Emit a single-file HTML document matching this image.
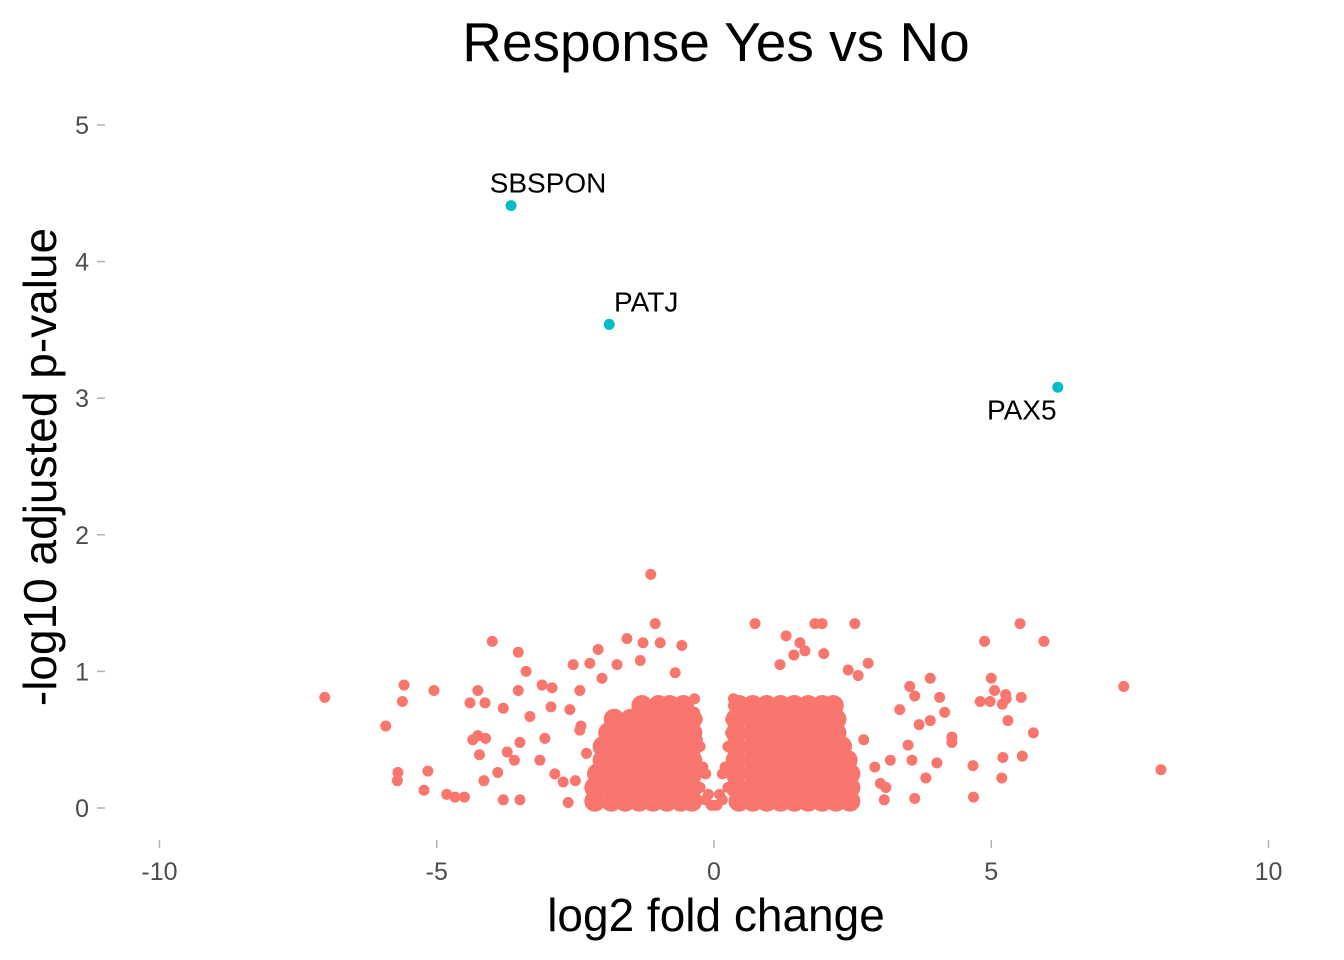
<!DOCTYPE html>
<html><head><meta charset="utf-8"><title>Response Yes vs No</title>
<style>
html,body{margin:0;padding:0;background:#fff;}
svg{display:block;font-family:"Liberation Sans",Arial,sans-serif;}
</style></head>
<body>
<svg id="chart" width="1344" height="960" viewBox="0 0 1344 960">
<text x="716" y="61" text-anchor="middle" font-size="55" fill="#000">Response Yes vs No</text>
<g id="xaxis"></g>
<g id="yaxis"></g>
<text x="716" y="931" text-anchor="middle" font-size="46" fill="#000">log2 fold change</text>
<text transform="translate(56,467) rotate(-90)" text-anchor="middle" font-size="46" fill="#000">-log10 adjusted p-value</text>
<g id="points"></g>
<g id="labels"></g>
</svg>
<script>
const xTicks = [-10, -5, 0, 5, 10];
const yTicks = [0, 1, 2, 3, 4, 5];
const sigGenes = ["SBSPON", "PATJ", "PAX5"];
const sigX = [-3.66, -1.89, 6.2];
const sigY = [4.41, 3.54, 3.08];
const scatterX = [-7.02,-5.92,-5.59,-5.62,-5.7,-5.71,-5.16,-5.05,-5.23,-4.82,-4.67,-4.5,-4.0,-3.53,-3.39,-4.26,-4.4,-4.13,-3.8,-3.53,-4.35,-4.26,-4.12,-4.23,-3.9,-4.15,-3.8,-3.5,-3.6,-3.5,-3.73,-3.32,-3.1,-2.92,-2.94,-3.05,-3.14,-2.87,-2.63,-2.72,-2.54,-2.24,-2.09,-1.57,-1.28,-0.97,-1.06,-1.14,-0.58,-0.7,-1.75,-1.33,-2.02,-2.42,-2.6,-2.42,
0.74,1.3,1.82,1.95,2.54,1.55,1.64,1.44,1.19,1.98,2.78,2.42,2.6,3.53,3.9,3.62,4.07,4.16,3.35,3.9,3.7,4.29,4.29,3.5,3.57,4.02,3.82,3.62,3.07,3.0,3.18,4.88,5.52,5.95,5.0,5.06,5.26,5.54,5.27,4.8,4.98,5.2,5.3,5.76,5.56,5.21,5.19,4.67,4.68,7.39,8.06,
-0.3,-0.2,-0.1,0,0.1,0.2,0.3,-0.35,0.35,-0.25,0.25,-0.15,0.15,-0.05,0.05,2.7,2.9,3.1,-2.3,-2.5,-2.2,-2.4,
-0.25,0.25,-0.15,0.15,-0.3,0.3,-0.35,0.35];
const scatterY = [0.81,0.60,0.90,0.78,0.26,0.20,0.27,0.86,0.13,0.10,0.08,0.08,1.22,1.14,1.0,0.86,0.77,0.77,0.73,0.86,0.5,0.53,0.51,0.39,0.26,0.2,0.06,0.06,0.35,0.48,0.41,0.67,0.9,0.88,0.74,0.51,0.35,0.25,0.04,0.19,1.05,1.06,1.16,1.24,1.21,1.21,1.35,1.71,1.19,0.99,1.05,1.08,0.95,0.86,0.72,0.57,
1.35,1.26,1.35,1.35,1.35,1.21,1.15,1.12,1.05,1.13,1.06,1.01,0.97,0.89,0.95,0.82,0.81,0.7,0.72,0.64,0.61,0.52,0.48,0.46,0.35,0.33,0.22,0.07,0.06,0.18,0.35,1.22,1.35,1.22,0.95,0.86,0.83,0.81,0.8,0.78,0.78,0.76,0.64,0.55,0.38,0.37,0.22,0.31,0.08,0.89,0.28,
0.5,0.3,0.1,0.02,0.1,0.3,0.55,0.7,0.75,0.15,0.15,0.06,0.06,0.02,0.02,0.5,0.3,0.15,0.4,0.2,0.1,0.6,
0.45,0.45,0.25,0.25,0.65,0.65,0.8,0.8];
const denseRowY = [0.05, 0.15, 0.25, 0.35, 0.45, 0.55, 0.65, 0.75];
const denseRowLeftX = [
 [-2.15,-1.85,-1.6,-1.35,-1.1,-0.85,-0.6,-0.4],
 [-2.15,-1.85,-1.6,-1.35,-1.1,-0.85,-0.6,-0.4],
 [-2.1,-1.85,-1.6,-1.35,-1.1,-0.85,-0.6,-0.4],
 [-2.0,-1.85,-1.6,-1.35,-1.1,-0.85,-0.6,-0.4],
 [-2.0,-1.8,-1.6,-1.35,-1.1,-0.85,-0.6,-0.4],
 [-1.9,-1.6,-1.35,-1.1,-0.85,-0.6,-0.4],
 [-1.8,-1.5,-1.3,-1.1,-0.85,-0.6,-0.4],
 [-1.3,-1.0,-0.8,-0.55]
];
const denseRowRightX = [
 [0.45,0.7,0.95,1.2,1.45,1.7,1.95,2.2,2.45],
 [0.4,0.7,0.95,1.2,1.45,1.7,1.95,2.2,2.45],
 [0.4,0.7,0.95,1.2,1.45,1.7,1.95,2.2,2.45],
 [0.4,0.7,0.95,1.2,1.45,1.7,1.95,2.2,2.4],
 [0.4,0.7,0.95,1.2,1.45,1.7,1.95,2.2,2.3],
 [0.4,0.7,0.95,1.2,1.45,1.7,1.95,2.2],
 [0.4,0.7,0.95,1.2,1.45,1.7,1.95,2.2],
 [0.45,0.7,0.95,1.2,1.45,1.7,1.95,2.15]
];
const NS="http://www.w3.org/2000/svg";
function sx(v){return 714 + v*55.45;}
function sy(v){return 808 - v*136.6;}
const xa=document.getElementById('xaxis'), ya=document.getElementById('yaxis');
const pts=document.getElementById('points'), lab=document.getElementById('labels');
xTicks.forEach(t=>{
  const l=document.createElementNS(NS,'line');
  l.setAttribute('x1',sx(t));l.setAttribute('x2',sx(t));l.setAttribute('y1',840);l.setAttribute('y2',848);
  l.setAttribute('stroke','#b3b3b3');l.setAttribute('stroke-width','1.5');
  
  
  xa.appendChild(l);
  const tx=document.createElementNS(NS,'text');
  tx.setAttribute('x',sx(t));tx.setAttribute('y',880);tx.setAttribute('text-anchor','middle');
  tx.setAttribute('font-size','25');tx.setAttribute('fill','#4d4d4d');tx.textContent=t;
  
  
  xa.appendChild(tx);
});
yTicks.forEach(t=>{
  const l=document.createElementNS(NS,'line');
  l.setAttribute('x1',97);l.setAttribute('x2',105);l.setAttribute('y1',sy(t));l.setAttribute('y2',sy(t));
  l.setAttribute('stroke','#b3b3b3');l.setAttribute('stroke-width','1.5');
  
  
  ya.appendChild(l);
  const tx=document.createElementNS(NS,'text');
  tx.setAttribute('x',89);tx.setAttribute('y',sy(t)+9);tx.setAttribute('text-anchor','end');
  tx.setAttribute('font-size','25');tx.setAttribute('fill','#4d4d4d');tx.textContent=t;
  
  
  ya.appendChild(tx);
});
function dot(x,y,r,c,name){
  const d=document.createElementNS(NS,'circle');
  d.setAttribute('cx',sx(x));d.setAttribute('cy',sy(y));d.setAttribute('r',r);d.setAttribute('fill',c);
  
  
  pts.appendChild(d);
}
denseRowY.forEach((y,i)=>{
  denseRowLeftX[i].forEach(x=>dot(x,y,10.5,'#F8766D','dense-point'));
  denseRowRightX[i].forEach(x=>dot(x,y,10.5,'#F8766D','dense-point'));
});
scatterX.forEach((x,i)=>dot(x,scatterY[i],5.5,'#F8766D','gene-point'));
sigX.forEach((x,i)=>dot(x,sigY[i],5.5,'#00BFC4','significant-gene-point'));
const labDx=[37,37,-36], labDy=[-13,-13,32];
sigGenes.forEach((g,i)=>{
  const tx=document.createElementNS(NS,'text');
  tx.setAttribute('x',sx(sigX[i])+labDx[i]);tx.setAttribute('y',sy(sigY[i])+labDy[i]);
  tx.setAttribute('text-anchor','middle');tx.setAttribute('font-size','28');tx.setAttribute('fill','#000');
  tx.textContent=g;
  
  
  lab.appendChild(tx);
});
</script>
</body></html>
